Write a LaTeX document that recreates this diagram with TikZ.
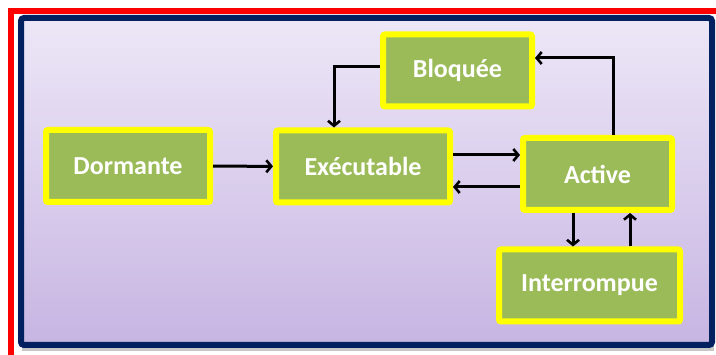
\documentclass[tikz,border=0pt]{standalone}
\usepackage{fontspec}
\setmainfont{Carlito}
\usetikzlibrary{arrows.meta,calc}
\definecolor{boxgreen}{HTML}{9BBB59}
\definecolor{boxyellow}{HTML}{FFFF00}
\definecolor{navyframe}{HTML}{002060}
\definecolor{bgtop}{HTML}{EDE7F7}
\definecolor{bgbot}{HTML}{C7B5E2}
\tikzset{
  state/.style={draw=boxyellow, fill=boxgreen, line width=6pt, rounded corners=2pt,
    minimum height=72pt, inner sep=0pt,
    font=\fontsize{26}{29}\selectfont\bfseries, text=white},
  arr/.style={draw=black, line width=3pt, -{Straight Barb[length=5pt,width=12pt,line width=2.6pt]}}
}
\newcommand{\statenode}[4]{%
  \node[state, minimum width=#3] (#1) at (#2) {\raisebox{-1pt}{#4}};
}
\begin{document}
\begin{tikzpicture}[x=1pt,y=-1pt]
\useasboundingbox (0,0) rectangle (716,355);
% red frame
\fill[red] (8,8) rectangle (14,355);
\fill[red] (8,8) rectangle (716,14);
% shadow of panel
\fill[black!22] (22,346) rectangle (714,351);
% panel
\shade[top color=bgtop, bottom color=bgbot] (21,18) rectangle (712,345);
\draw[navyframe, line width=6pt, rounded corners=3pt] (21,18) rectangle (712,345);
% states
\statenode{dor}{128,166}{164pt}{Dormante}
\statenode{exe}{363,166.5}{174pt}{Exécutable}
\statenode{blo}{457.5,70.5}{149pt}{Bloquée}
\statenode{act}{597.5,174}{149pt}{Active}
\statenode{int}{589.5,285.5}{181pt}{Interrompue}
% connectors
\draw[arr] (dor) -- (exe);
\coordinate (b1) at ([yshift=3.5pt]blo.west);
\coordinate (e0) at ([xshift=-29pt]exe.north);
\draw[arr] (b1) -| (e0);
\coordinate (e1) at ([yshift=11.5pt]exe.east);
\draw[arr] (e1) -- (e1 -| act.west);
\coordinate (a1) at ([yshift=-13pt]act.west);
\draw[arr] (a1) -- (a1 -| exe.east);
\coordinate (a2) at ([xshift=15.5pt]act.north);
\coordinate (b2) at ([yshift=12.5pt]blo.east);
\draw[arr] (a2) |- (b2);
\coordinate (a3) at ([xshift=-24.5pt]act.south);
\draw[arr] (a3) -- (a3 |- int.north);
\coordinate (a4) at ([xshift=32.5pt]act.south);
\draw[arr] (a4 |- int.north) -- (a4);
\end{tikzpicture}
\end{document}
